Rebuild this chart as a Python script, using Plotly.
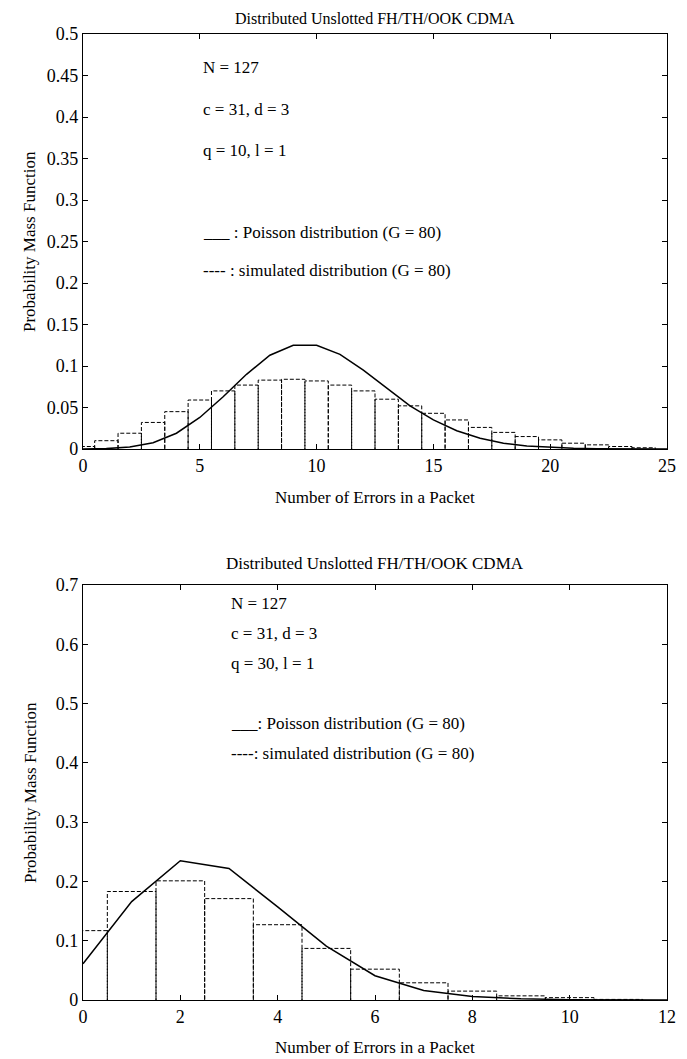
import plotly.graph_objects as go

# ---------------- data ----------------
title_text = "Distributed Unslotted FH/TH/OOK CDMA"
x_title = "Number of Errors in a Packet"
y_title = "Probability Mass Function"

# top panel (q = 10)
top_bar_x = list(range(0, 25))
top_bar_y = [0.003, 0.010, 0.019, 0.032, 0.045, 0.059, 0.070, 0.077, 0.083, 0.084,
             0.082, 0.077, 0.070, 0.060, 0.052, 0.043, 0.035, 0.026, 0.020, 0.015,
             0.011, 0.007, 0.005, 0.003, 0.0015]
top_pois_x = list(range(0, 26))
top_pois_y = [0.0, 0.0005, 0.0023, 0.0076, 0.019, 0.038, 0.063, 0.090, 0.113, 0.125,
              0.125, 0.114, 0.095, 0.073, 0.052, 0.035, 0.022, 0.013, 0.007, 0.0037,
              0.0019, 0.0009, 0.0004, 0.0002, 0.0001, 0.0]
top_notes = ["N = 127", "c = 31, d = 3", "q = 10, l = 1",
             "___ : Poisson distribution (G = 80)",
             "---- : simulated distribution (G = 80)"]

# bottom panel (q = 30)
bot_bar_x = list(range(0, 12))
bot_bar_y = [0.117, 0.183, 0.201, 0.171, 0.127, 0.087, 0.052, 0.029, 0.015, 0.007,
             0.004, 0.001]
bot_pois_x = list(range(0, 13))
bot_pois_y = [0.061, 0.166, 0.235, 0.222, 0.157, 0.091, 0.041, 0.016, 0.006, 0.002,
              0.0006, 0.0001, 0.0]
bot_notes = ["N = 127", "c = 31, d = 3", "q = 30, l = 1",
             "___: Poisson distribution (G = 80)",
             "----: simulated distribution (G = 80)"]

# ---------------- figure ----------------
PAGE_W, PAGE_H = 687, 1059
OFF = 8                      # default body margin of the html page
W, H = PAGE_W - OFF, PAGE_H - OFF
ML, MR = 83 - OFF, 20
PW = W - ML - MR
FONT = "Liberation Serif"


def px_x(p):                 # page px -> paper x
    return (p - OFF - ML) / PW


def px_y(p):                 # page px -> paper y
    return (H - (p - OFF)) / H


def outline(xs, ys, half=0.5):
    ox, oy = [], []
    for x, y in zip(xs, ys):
        ox += [x - half, x - half, x + half, x + half, None]
        oy += [0, y, y, 0, None]
    return ox, oy


fig = go.Figure()

tx, ty = outline(top_bar_x, top_bar_y)
fig.add_trace(go.Scatter(x=tx, y=ty, mode="lines", xaxis="x", yaxis="y",
                         line=dict(color="black", width=1, dash="4px,2px"),
                         showlegend=False))
fig.add_trace(go.Scatter(x=top_pois_x, y=top_pois_y, mode="lines", xaxis="x", yaxis="y",
                         line=dict(color="black", width=1.5), showlegend=False))

bx, by = outline(bot_bar_x, bot_bar_y)
fig.add_trace(go.Scatter(x=bx, y=by, mode="lines", xaxis="x2", yaxis="y2",
                         line=dict(color="black", width=1, dash="4px,2px"),
                         showlegend=False))
fig.add_trace(go.Scatter(x=bot_pois_x, y=bot_pois_y, mode="lines", xaxis="x2", yaxis="y2",
                         line=dict(color="black", width=1.5), showlegend=False))

axis_common = dict(showgrid=False, zeroline=False, showline=True, linecolor="black",
                   linewidth=1.3, mirror="ticks", ticks="inside", ticklen=5,
                   tickcolor="black", tickwidth=1, automargin=False,
                   tickfont=dict(family=FONT, size=18, color="black"))

top_dom = [px_y(449), px_y(34)]
bot_dom = [px_y(1000), px_y(585)]

fig.update_layout(
    width=W, height=H,
    margin=dict(l=ML, r=MR, t=0, b=0, pad=0),
    paper_bgcolor="white", plot_bgcolor="white",
    xaxis=dict(domain=[0, 1], range=[0, 25], tickvals=[0, 5, 10, 15, 20, 25],
               anchor="y", **axis_common),
    yaxis=dict(domain=top_dom, range=[0, 0.5],
               tickvals=[0, 0.05, 0.1, 0.15, 0.2, 0.25, 0.3, 0.35, 0.4, 0.45, 0.5],
               ticktext=["0", "0.05", "0.1", "0.15", "0.2", "0.25", "0.3", "0.35",
                         "0.4", "0.45", "0.5"],
               anchor="x", **axis_common),
    xaxis2=dict(domain=[0, 1], range=[0, 12], tickvals=[0, 2, 4, 6, 8, 10, 12],
                anchor="y2", **axis_common),
    yaxis2=dict(domain=bot_dom, range=[0, 0.7],
                tickvals=[0, 0.1, 0.2, 0.3, 0.4, 0.5, 0.6, 0.7],
                ticktext=["0", "0.1", "0.2", "0.3", "0.4", "0.5", "0.6", "0.7"],
                anchor="x2", **axis_common),
)

TXT = dict(family=FONT, size=17, color="black")
ann = []
# top title: anchored at its top so it stays inside the page
ann.append(dict(text=title_text, x=0.5, y=1.0, xref="paper", yref="paper",
                xanchor="center", yanchor="top", showarrow=False,
                font=dict(family=FONT, size=16, color="black")))
ann.append(dict(text=title_text, x=0.5, y=px_y(563), xref="paper", yref="paper",
                xanchor="center", yanchor="middle", showarrow=False, font=TXT))
for ty_px in (497, 1047):
    ann.append(dict(text=x_title, x=0.5, y=px_y(ty_px), xref="paper", yref="paper",
                    xanchor="center", yanchor="middle", showarrow=False, font=TXT))
for ty_px in (242, 793):
    ann.append(dict(text=y_title, x=px_x(30), y=px_y(ty_px), xref="paper", yref="paper",
                    xanchor="center", yanchor="middle", textangle=-90, showarrow=False,
                    font=TXT))
top_note_y = [67, 110, 150, 233, 270]
for t, yy in zip(top_notes, top_note_y):
    ann.append(dict(text=t, x=px_x(201), y=px_y(yy), xref="paper", yref="paper",
                    xanchor="left", yanchor="middle", showarrow=False, font=TXT))
bot_note_y = [603, 633, 663, 723, 753]
for t, yy in zip(bot_notes, bot_note_y):
    ann.append(dict(text=t, x=px_x(229), y=px_y(yy), xref="paper", yref="paper",
                    xanchor="left", yanchor="middle", showarrow=False, font=TXT))

fig.update_layout(annotations=ann)
fig.write_html("out.html")
